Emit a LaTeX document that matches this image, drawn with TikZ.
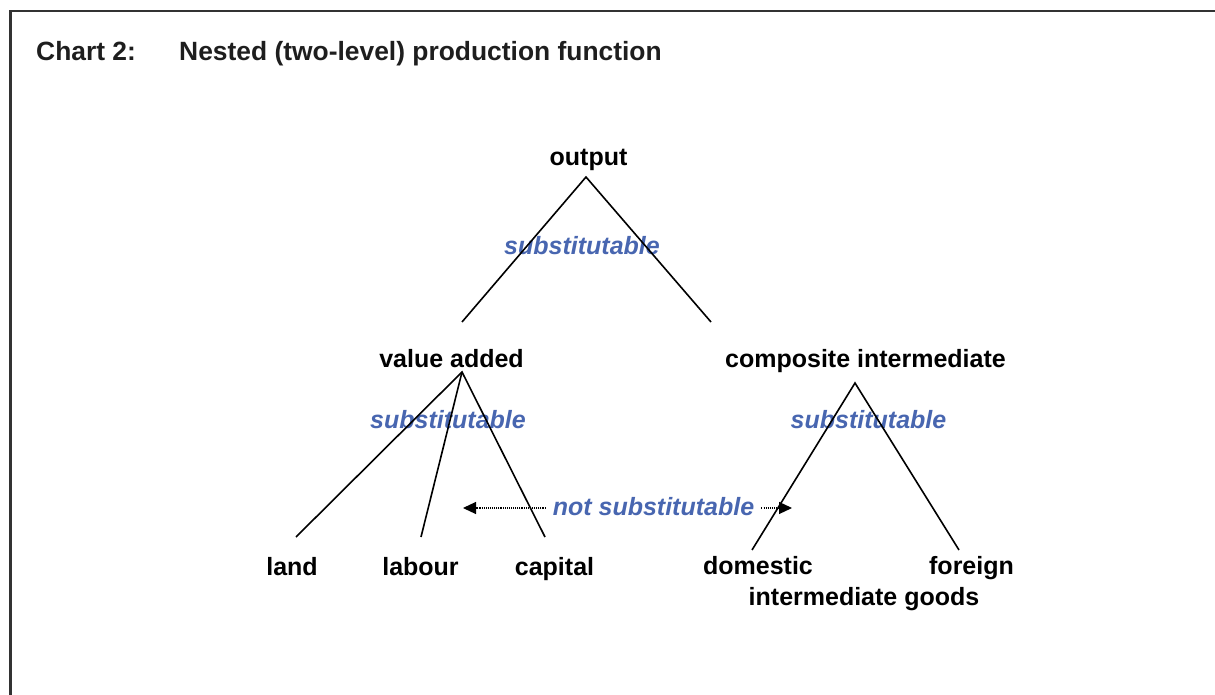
\documentclass[tikz,border=0pt]{standalone}
\usepackage{fontspec}
\setmainfont{Liberation Sans}
\usetikzlibrary{arrows.meta}
\definecolor{subblue}{RGB}{72,102,176}
\definecolor{framegray}{RGB}{50,50,50}
\definecolor{titleblack}{RGB}{30,30,30}
\begin{document}
\begin{tikzpicture}[x=1pt,y=-1pt,
  lbl/.style={font=\fontsize{25}{30}\selectfont\bfseries, inner sep=0pt, anchor=base},
  sub/.style={font=\fontsize{25}{30}\selectfont\bfseries\itshape, text=subblue, inner sep=0pt, anchor=base},
  ttl/.style={font=\fontsize{26.4}{31}\selectfont\bfseries, text=titleblack, inner sep=0pt, anchor=base west},
  branch/.style={line width=1.6pt, black},
  dotarrow/.style={line width=1.1pt, dash pattern=on 1.1pt off 1pt, -{Triangle[length=13pt,width=12pt]}},
  frame/.style={framegray, line width=2.5pt}]
\useasboundingbox (0,0) rectangle (1215,695);
% frame
\coordinate (fb) at (10.3,695);
\coordinate (fc) at (10.3,11);
\coordinate (fr) at (1215,11);
\draw[frame] (fb) -- (fc) -- (fr);
% title
\node[ttl] (t1) at (36,61) {Chart 2:};
\node[ttl] (t2) at (179,61) {Nested (two-level) production function};
% labels
\node[lbl] (out) at (588.5,166) {output};
\node[lbl] (va) at (451.5,367) {value added};
\node[lbl] (ci) at (865.5,367) {composite intermediate};
\node[lbl] (land) at (292,575) {land};
\node[lbl] (labour) at (420.5,575) {labour};
\node[lbl] (capital) at (554.5,575) {capital};
\node[lbl] (dom) at (758,574) {domestic};
\node[lbl] (for) at (971.5,574) {foreign};
\node[lbl] (ig) at (864,605) {intermediate goods};
% blue labels
\node[sub] (s1) at (582,254) {substitutable};
\node[sub] (s2) at (448,428) {substitutable};
\node[sub] (s3) at (868.5,428) {substitutable};
\node[sub, inner xsep=7pt] (nst) at (653.5,515) {not substitutable};
% branch points
\coordinate (oA) at (586,177);
\coordinate (oL) at (462,322);
\coordinate (oR) at (711,322);
\coordinate (vA) at (462,372);
\coordinate (vL) at (296,537);
\coordinate (vM) at (421,537);
\coordinate (vR) at (545,537);
\coordinate (cA) at (855,383);
\coordinate (cL) at (752,550);
\coordinate (cR) at (959,550);
\coordinate (aL) at (463,508);
\coordinate (aR) at (792,508);
% branches
\draw[branch] (oL) -- (oA) -- (oR);
\draw[branch] (vL) -- (vA) -- (vR);
\draw[branch] (vA) -- (vM);
\draw[branch] (cL) -- (cA) -- (cR);
% not substitutable arrows
\draw[dotarrow] (nst.west |- aL) -- (aL);
\draw[dotarrow] (nst.east |- aR) -- (aR);
\end{tikzpicture}
\end{document}
